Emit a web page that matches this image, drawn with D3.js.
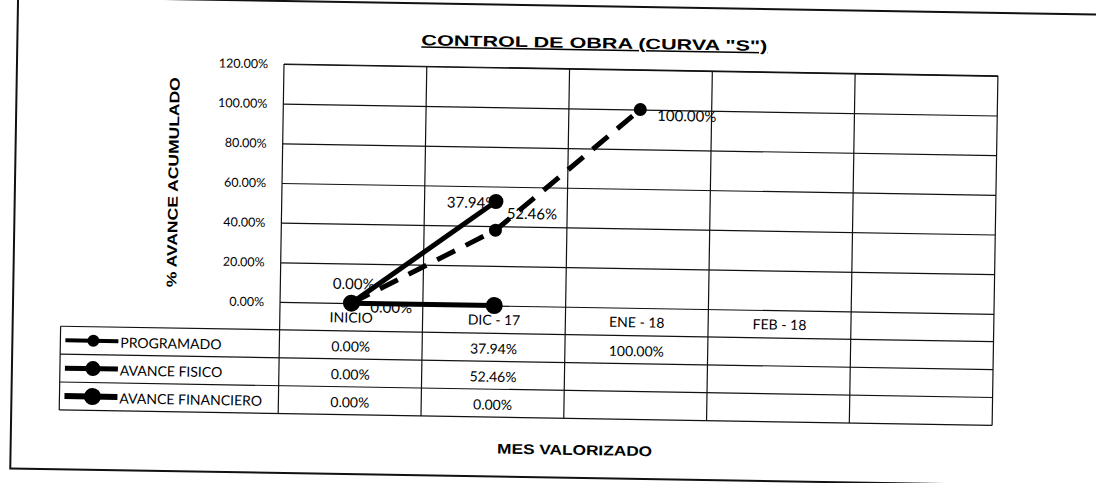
<!DOCTYPE html>
<html>
<head>
<meta charset="utf-8">
<script src="https://cdn.jsdelivr.net/npm/d3@7"></script>
<style>
  body { margin: 0; background: #fff; }
  svg { display: block; font-family: Lato, sans-serif; }
</style>
</head>
<body>
<svg></svg>
<script>
// data (percent)
const categories = ["INICIO", "DIC - 17", "ENE - 18", "FEB - 18", ""];
const programado = [0, 37.94, 100, null, null];
const avanceFisico = [0, 52.46, null, null, null];
const avanceFinanciero = [0, 0, null, null, null];
const yTicks = [0, 20, 40, 60, 80, 100, 120];
const seriesNames = ["PROGRAMADO", "AVANCE FISICO", "AVANCE FINANCIERO"];

const series = [
  { name: seriesNames[0], values: programado, dash: "20,12", width: 5, r: 6.5, legW: 4, legR: 6,
    labels: [{ dx: 2, dy: -20, anchor: "middle" }, { dx: -49, dy: -28, anchor: "start" }, { dx: 17, dy: 5, anchor: "start" }] },
  { name: seriesNames[1], values: avanceFisico, dash: null, width: 5, r: 7.5, legW: 5, legR: 7.5,
    labels: [{ dx: 19, dy: 3, anchor: "start" }, { dx: 11, dy: 11, anchor: "start" }] },
  { name: seriesNames[2], values: avanceFinanciero, dash: null, width: 5, r: 8.5, legW: 6, legR: 8.5,
    labels: null }
];

const svgWidth = 1096, svgHeight = 483;
const plot = { left: 284, right: 998, top: 64, bottom: 302 };
const rowH = 27.9;
const legendLeft = 65;
const tableBottom = plot.bottom + rowH * 4;
const ink = "#000";

const svg = d3.select("svg")
  .attr("width", svgWidth)
  .attr("height", svgHeight);

// the scanned sheet is tilted by about one degree
const g = svg.append("g")
  .attr("transform", "rotate(0.95," + plot.left + "," + plot.top + ")");

const x = d3.scaleBand()
  .domain(categories)
  .range([plot.left, plot.right]);

const y = d3.scaleLinear()
  .domain([0, 120])
  .range([plot.bottom, plot.top]);

const cx = i => x(categories[i]) + x.bandwidth() / 2;
const fmt = v => v.toFixed(2) + "%";

// outer frame
g.append("rect")
  .attr("x", 17).attr("y", 1)
  .attr("width", 1090).attr("height", 472)
  .attr("fill", "none")
  .attr("stroke", "#111")
  .attr("stroke-width", 2);

// title
g.append("text")
  .attr("x", 594).attr("y", 43)
  .attr("text-anchor", "middle")
  .attr("font-family", "Liberation Sans, Arial, sans-serif")
  .attr("font-weight", "bold")
  .attr("font-size", 15)
  .attr("textLength", 346)
  .attr("lengthAdjust", "spacingAndGlyphs")
  .attr("text-decoration", "underline")
  .attr("fill", ink)
  .text("CONTROL DE OBRA (CURVA \"S\")");

// y axis with gridlines
g.append("g")
  .attr("transform", "translate(" + plot.left + ",0)")
  .call(d3.axisLeft(y)
    .tickValues(yTicks)
    .tickSize(-(plot.right - plot.left))
    .tickPadding(16)
    .tickFormat(fmt))
  .call(a => a.select(".domain").remove())
  .call(a => a.selectAll("line").attr("stroke", "#111").attr("stroke-width", 1.2))
  .call(a => a.selectAll("text")
    .attr("font-family", "Lato, sans-serif")
    .attr("font-size", 12.5)
    .attr("fill", ink));

g.append("text")
  .attr("transform", "translate(175,184) rotate(-90)")
  .attr("text-anchor", "middle")
  .attr("dominant-baseline", "central")
  .attr("font-family", "Liberation Sans, Arial, sans-serif")
  .attr("font-weight", "bold")
  .attr("font-size", 14)
  .attr("textLength", 210)
  .attr("lengthAdjust", "spacingAndGlyphs")
  .attr("fill", ink)
  .text("% AVANCE ACUMULADO");

// vertical grid through plot and table
const vx = categories.map(c => x(c)).concat([plot.right]);
g.append("g").selectAll("line")
  .data(vx)
  .join("line")
  .attr("x1", d => d).attr("x2", d => d)
  .attr("y1", plot.top).attr("y2", tableBottom)
  .attr("stroke", "#111")
  .attr("stroke-width", 1.2);

g.append("line")
  .attr("x1", plot.left).attr("x2", plot.right)
  .attr("y1", plot.top).attr("y2", plot.top)
  .attr("stroke", "#111").attr("stroke-width", 1.2);

// table rows
const rowLines = [1, 2, 3, 4].map(i => plot.bottom + rowH * i);
g.append("g").selectAll("line")
  .data(rowLines)
  .join("line")
  .attr("x1", legendLeft).attr("x2", plot.right)
  .attr("y1", d => d).attr("y2", d => d)
  .attr("stroke", "#111")
  .attr("stroke-width", 1.2);

g.append("line")
  .attr("x1", legendLeft).attr("x2", legendLeft)
  .attr("y1", plot.bottom + rowH).attr("y2", tableBottom)
  .attr("stroke", "#111").attr("stroke-width", 1.2);

// category row
g.append("g").selectAll("text")
  .data(categories)
  .join("text")
  .attr("x", (d, i) => cx(i))
  .attr("y", plot.bottom + rowH / 2)
  .attr("text-anchor", "middle")
  .attr("dominant-baseline", "central")
  .attr("font-size", 14)
  .attr("fill", ink)
  .text(d => d);

// series rows
series.forEach((s, k) => {
  const ry = plot.bottom + rowH * (k + 1.5);
  const row = g.append("g");
  row.append("line")
    .attr("x1", 70).attr("x2", 123)
    .attr("y1", ry).attr("y2", ry)
    .attr("stroke", "#000")
    .attr("stroke-width", s.legW);
  row.append("circle")
    .attr("cx", 98).attr("cy", ry)
    .attr("r", s.legR)
    .attr("fill", "#000");
  row.append("text")
    .attr("x", 125).attr("y", ry + 1)
    .attr("dominant-baseline", "central")
    .attr("font-size", 14)
    .attr("fill", ink)
    .text(s.name);
  row.selectAll("text.val")
    .data(s.values)
    .join("text")
    .attr("class", "val")
    .attr("x", (d, i) => cx(i))
    .attr("y", ry + 1)
    .attr("text-anchor", "middle")
    .attr("dominant-baseline", "central")
    .attr("font-size", 14)
    .attr("fill", ink)
    .text(d => d == null ? "" : fmt(d));
});

// data labels (under the marks, as in the scan)
series.forEach(s => {
  if (!s.labels) return;
  s.values.forEach((v, i) => {
    if (v == null || !s.labels[i]) return;
    const o = s.labels[i];
    g.append("text")
      .attr("x", cx(i) + o.dx)
      .attr("y", y(v) + o.dy)
      .attr("text-anchor", o.anchor)
      .attr("dominant-baseline", "central")
      .attr("font-size", 15)
      .attr("fill", ink)
      .text(fmt(v));
  });
});

// lines and markers
const line = d3.line()
  .defined(d => d != null)
  .x((d, i) => cx(i))
  .y(d => y(d));

series.slice().reverse().forEach(s => {
  g.append("path")
    .datum(s.values)
    .attr("fill", "none")
    .attr("stroke", "#000")
    .attr("stroke-width", s.width)
    .attr("stroke-dasharray", s.dash)
    .attr("d", line);
  g.append("g").selectAll("circle")
    .data(s.values.map((v, i) => ({ v, i })).filter(d => d.v != null))
    .join("circle")
    .attr("cx", d => cx(d.i))
    .attr("cy", d => y(d.v))
    .attr("r", s.r)
    .attr("fill", "#000");
});

// x axis title
g.append("text")
  .attr("x", 581).attr("y", 445)
  .attr("text-anchor", "middle")
  .attr("dominant-baseline", "central")
  .attr("font-family", "Liberation Sans, Arial, sans-serif")
  .attr("font-weight", "bold")
  .attr("font-size", 14)
  .attr("textLength", 155)
  .attr("lengthAdjust", "spacingAndGlyphs")
  .attr("fill", ink)
  .text("MES VALORIZADO");
</script>
</body>
</html>
